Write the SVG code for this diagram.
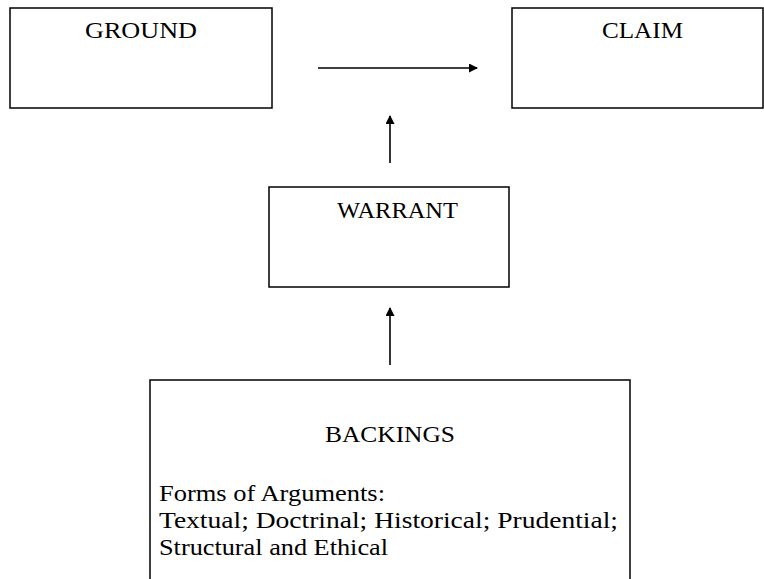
<svg xmlns="http://www.w3.org/2000/svg" width="764" height="579" viewBox="0 0 764 579">
  <style>
    .box { fill: #ffffff; stroke: #000000; stroke-width: 1.5; }
    .lbl { font-family: "Liberation Serif", "Times New Roman", serif; font-size: 24px; fill: #000000; }
    .mid { text-anchor: middle; }
    .edge { stroke: #000000; stroke-width: 1.6; fill: none; marker-end: url(#head); }
  </style>
  <defs>
    <marker id="head" markerWidth="9" markerHeight="9" refX="8" refY="4.5" orient="auto" markerUnits="userSpaceOnUse">
      <path d="M0,0 L9,4.5 L0,9 Z" fill="#000000"/>
    </marker>
  </defs>
  <rect width="764" height="579" fill="#ffffff"/>

  <g id="ground">
    <rect class="box" x="10" y="8" width="262" height="100"/>
    <text class="lbl mid" x="141" y="38" textLength="112" lengthAdjust="spacingAndGlyphs">GROUND</text>
  </g>

  <g id="claim">
    <rect class="box" x="512" y="8" width="251" height="100"/>
    <text class="lbl mid" x="642.5" y="38" textLength="81" lengthAdjust="spacingAndGlyphs">CLAIM</text>
  </g>

  <g id="warrant">
    <rect class="box" x="269" y="187" width="240" height="100"/>
    <text class="lbl mid" x="397.5" y="218" textLength="121" lengthAdjust="spacingAndGlyphs">WARRANT</text>
  </g>

  <g id="backings">
    <rect class="box" x="150" y="380" width="480" height="210"/>
    <text class="lbl mid" x="390" y="442" textLength="130" lengthAdjust="spacingAndGlyphs">BACKINGS</text>
    <text class="lbl" x="159" y="501" textLength="226" lengthAdjust="spacingAndGlyphs">Forms of Arguments:</text>
    <text class="lbl" x="159" y="528" textLength="459" lengthAdjust="spacingAndGlyphs">Textual; Doctrinal; Historical; Prudential;</text>
    <text class="lbl" x="159" y="555" textLength="229" lengthAdjust="spacingAndGlyphs">Structural and Ethical</text>
  </g>

  <g id="connectors">
    <line class="edge" x1="318" y1="68" x2="477" y2="68"/>
    <line class="edge" x1="390" y1="163" x2="390" y2="116"/>
    <line class="edge" x1="390" y1="365" x2="390" y2="308"/>
  </g>
</svg>
